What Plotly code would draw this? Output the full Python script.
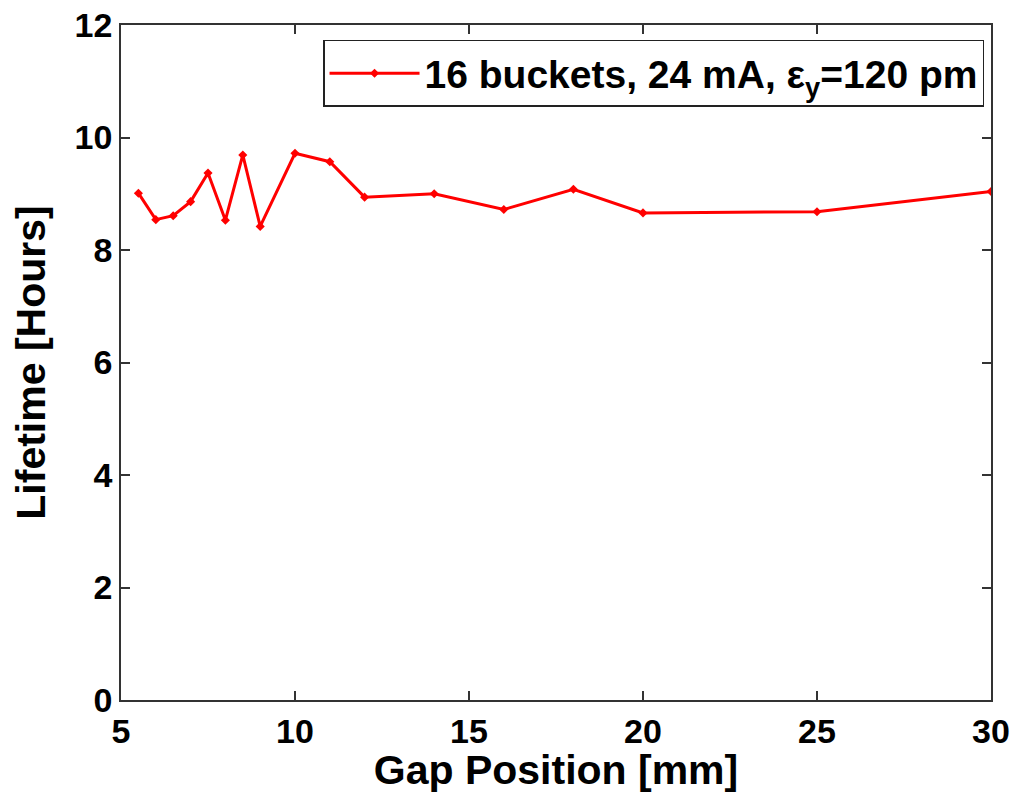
import plotly.graph_objects as go

gap_mm = [5.5, 6, 6.5, 7, 7.5, 8, 8.5, 9, 10, 11, 12, 14, 16, 18, 20, 25, 30]
lifetime_h = [9.01, 8.54, 8.61, 8.86, 9.37, 8.53, 9.69, 8.42, 9.72, 9.57, 8.94,
              9.00, 8.72, 9.08, 8.66, 8.68, 9.04]
series_name = "16 buckets, 24 mA, ε<sub>y</sub>=120 pm"
x_ticks = [5, 10, 15, 20, 25, 30]
y_ticks = [0, 2, 4, 6, 8, 10, 12]

FONT = "Liberation Sans, Arial, sans-serif"

fig = go.Figure()
fig.add_trace(go.Scatter(
    x=gap_mm, y=lifetime_h, mode="lines+markers", name=series_name,
    line=dict(color="#ff0000", width=3),
    marker=dict(symbol="diamond", size=7, color="#ff0000"),
))

axis_common = dict(
    showgrid=False, zeroline=False, showline=True, linecolor="#333333",
    linewidth=1.5, mirror="ticks", ticks="inside", ticklen=9,
    tickcolor="#333333", tickwidth=1.5, automargin=False,
    ticklabeloverflow="allow",
    tickfont=dict(family=FONT, size=34, color="black", weight="bold"),
)

fig.update_layout(
    width=1013, height=793,
    margin=dict(l=121, r=22, t=25, b=93),
    paper_bgcolor="white", plot_bgcolor="white",
    showlegend=True,
    legend=dict(
        x=0.992, y=0.978, xanchor="right", yanchor="top",
        bordercolor="#222222", borderwidth=1.5, bgcolor="white",
        font=dict(family=FONT, size=39, color="black", weight="bold"),
        itemwidth=90,
    ),
    xaxis=dict(range=[5, 30], tickvals=x_ticks,
               title=dict(text="Gap Position [mm]", standoff=6,
                          font=dict(family=FONT, size=41, color="black", weight="bold")),
               **axis_common),
    yaxis=dict(range=[0, 12], tickvals=y_ticks,
               title=dict(text="Lifetime [Hours]", standoff=16,
                          font=dict(family=FONT, size=41, color="black", weight="bold")),
               **axis_common),
)

fig.write_html("out.html", config={"displayModeBar": False})

# remove the browser's default 8px body margin so the figure fills the window
with open("out.html", "r", encoding="utf-8") as f:
    html = f.read()
html = html.replace("<body>", '<body style="margin:0;overflow:hidden">', 1)
with open("out.html", "w", encoding="utf-8") as f:
    f.write(html)
